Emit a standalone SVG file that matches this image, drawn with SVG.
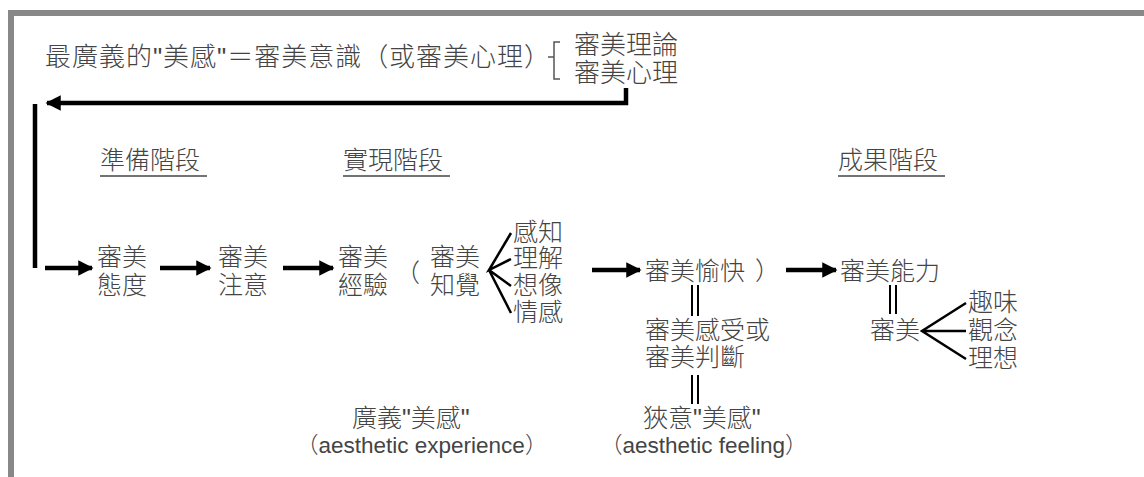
<svg xmlns="http://www.w3.org/2000/svg" width="1144" height="477" viewBox="0 0 1144 477">
<defs>
<style>
text{font-family:"Liberation Sans","Noto Sans CJK TC",sans-serif;fill:#444;font-weight:300;}
.t{font-size:25px;}
.top{font-size:26px;}
.en{font-size:22.5px;}
.ul{stroke:#444;stroke-width:1.5;}
.arr{stroke:#000;stroke-width:4.5;fill:none;}
.thin{stroke:#000;stroke-width:2.5;fill:none;}
.eq{stroke:#000;stroke-width:2;}
.br{stroke:#555;stroke-width:1.5;fill:none;}
</style>
<marker id="ah" viewBox="0 0 10 10" refX="9" refY="5" markerWidth="3.6" markerHeight="3.4" orient="auto" markerUnits="strokeWidth">
<path d="M0,0 L10,5 L0,10 z" fill="#000"/>
</marker>
</defs>
<rect x="0" y="0" width="1144" height="477" fill="#fff"/>
<rect x="8" y="10" width="1136" height="6" fill="#888"/>
<rect x="8" y="10" width="6" height="467" fill="#888"/>

<g id="title">
<text class="top" x="45" y="66" textLength="505" lengthAdjust="spacing">最廣義的"美感"＝審美意識（或審美心理）</text>
<path class="br" d="M548,57 H554 M560,42 H554 V79 H560"/>
<text class="top" x="574" y="54">審美理論</text>
<text class="top" x="574" y="82">審美心理</text>
</g>

<g id="stage-prep"><text class="t" x="100" y="169">準備階段</text><line class="ul" x1="100" y1="176" x2="207" y2="176"/></g>
<g id="stage-real"><text class="t" x="343" y="169">實現階段</text><line class="ul" x1="343" y1="176" x2="450" y2="176"/></g>
<g id="stage-result"><text class="t" x="838" y="169">成果階段</text><line class="ul" x1="838" y1="176" x2="945" y2="176"/></g>

<g id="n-attitude"><text class="t" x="97" y="266">審美</text><text class="t" x="97" y="294">態度</text></g>
<g id="n-attention"><text class="t" x="218" y="266">審美</text><text class="t" x="218" y="294">注意</text></g>
<g id="n-experience"><text class="t" x="338" y="266">審美</text><text class="t" x="338" y="294">經驗</text></g>
<g id="paren-open"><text class="t" x="395" y="282">（</text></g>
<g id="n-perception"><text class="t" x="430" y="266">審美</text><text class="t" x="430" y="294">知覺</text></g>
<g id="n-perc-items">
<text class="t" x="513" y="241">感知</text>
<text class="t" x="513" y="267">理解</text>
<text class="t" x="513" y="294">想像</text>
<text class="t" x="513" y="321">情感</text>
</g>
<g id="n-pleasure"><text class="t" x="645" y="280">審美愉快</text><text class="t" x="755" y="280">）</text></g>
<g id="n-judgement"><text class="t" x="645" y="339">審美感受或</text><text class="t" x="645" y="366">審美判斷</text></g>
<g id="n-narrow"><text class="t" x="643" y="427">狹意"美感"</text><text class="en" x="600" y="453">（aesthetic feeling）</text></g>
<g id="n-broad"><text class="t" x="352" y="427">廣義"美感"</text><text class="en" x="296" y="453">（aesthetic experience）</text></g>
<g id="n-ability"><text class="t" x="840" y="280">審美能力</text></g>
<g id="n-taste"><text class="t" x="870" y="339">審美</text></g>
<g id="n-taste-items">
<text class="t" x="968" y="311">趣味</text>
<text class="t" x="968" y="339">觀念</text>
<text class="t" x="968" y="367">理想</text>
</g>

<g id="connectors">
<path class="arr" d="M626,88 V103 H47" marker-end="url(#ah)"/>
<line class="arr" x1="35" y1="104" x2="35" y2="268" stroke-width="3.5"/>
<line class="arr" x1="45" y1="268" x2="92" y2="268" marker-end="url(#ah)"/>
<line class="arr" x1="160" y1="268" x2="210" y2="268" marker-end="url(#ah)"/>
<line class="arr" x1="283" y1="268" x2="333" y2="268" marker-end="url(#ah)"/>
<line class="arr" x1="592" y1="270" x2="640" y2="270" marker-end="url(#ah)"/>
<line class="arr" x1="786" y1="270" x2="836" y2="270" marker-end="url(#ah)"/>
<path class="thin" d="M511,233 L489,270 L511,259 M489,270 L511,286 M489,270 L511,313"/>
<path class="thin" d="M966,303 L922,331 L966,359 M922,331 L966,331"/>
<path class="eq" d="M692,285 V316 M698,285 V316"/>
<path class="eq" d="M692,375 V404 M698,375 V404"/>
<path class="eq" d="M890,285 V314 M896,285 V314"/>
</g>
</svg>
